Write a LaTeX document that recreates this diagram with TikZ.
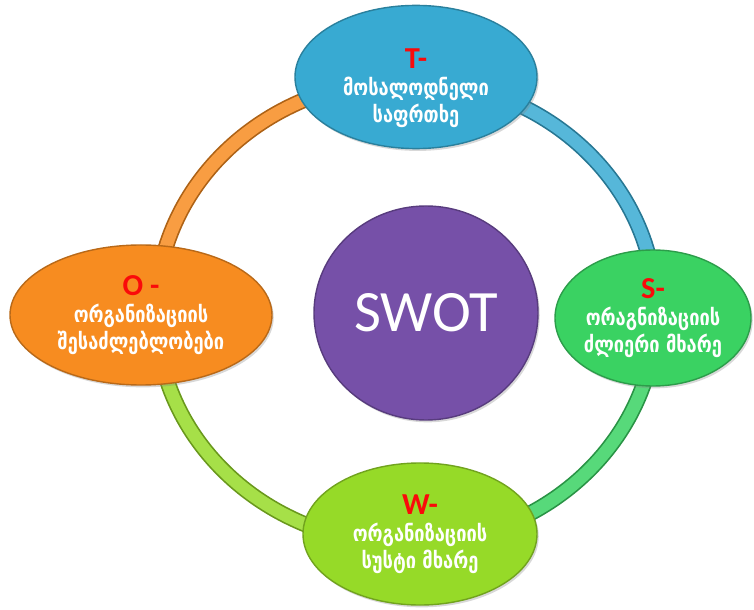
\documentclass[tikz,border=0pt]{standalone}
\usepackage{fontspec}
\setmainfont{Carlito}
\newfontfamily\geofont[FakeStretch=0.82]{DejaVu Sans}
\usepackage{tikz}
\usetikzlibrary{shapes.geometric,shadows}

\definecolor{tblue}{RGB}{56,170,210}
\definecolor{oorange}{RGB}{247,140,32}
\definecolor{sgreen}{RGB}{58,210,98}
\definecolor{wlime}{RGB}{150,218,40}
\definecolor{swotpurple}{RGB}{118,80,168}
\definecolor{letterred}{RGB}{250,10,10}

\newcommand{\letr}[1]{{\rmfamily\bfseries\fontsize{26}{28}\selectfont\color{letterred}#1}}

\tikzset{
  swotnode/.style={ellipse, inner sep=0pt, align=center, text=white,
    line width=1.2pt, font=\geofont\bfseries\fontsize{19}{23}\selectfont,
    drop shadow={opacity=0.3, shadow xshift=1.5pt, shadow yshift=-2pt}},
}

\begin{document}
\begin{tikzpicture}[x=0.03cm,y=0.03cm]
        \useasboundingbox (0,0) rectangle (754,609);
        \fill[white] (0,0) rectangle (754,609);
        % Centre of the ring
        \coordinate (ring) at (406,297);
        % Ring segments, each in the colour of the node it leaves
        \foreach \a/\col in {180/oorange, 90/tblue, 0/sgreen, -90/wlime} {
            \draw[\col!70!black, line width=0.48cm] (ring) ++(\a:250 and 232) arc[start angle=\a, end angle=\a-90, x radius=250, y radius=232];
            \draw[\col!85!white, line width=0.38cm] (ring) ++(\a:250 and 232) arc[start angle=\a, end angle=\a-90, x radius=250, y radius=232];
        }
        % Centre circle
        \node[swotnode, fill=swotpurple, draw=swotpurple!75!black, minimum width=6.72cm, minimum height=6.42cm,
              font=\fontsize{50}{60}\selectfont] (swot) at (426,296) {SWOT};
        % The four outer nodes
        \node[swotnode, fill=tblue, draw=tblue!75!black, minimum width=7.26cm, minimum height=4.2cm]
              (threat) at (416,532) {\rule{0pt}{36pt}\letr{T-}\\[0pt]მოსალოდნელი\\საფრთხე};
        \node[swotnode, fill=oorange, draw=oorange!75!black, minimum width=7.86cm, minimum height=4.2cm]
              (opport) at (141,294) {\letr{O -}\\[0pt]ორგანიზაციის\\შესაძლებლობები};
        \node[swotnode, fill=sgreen, draw=sgreen!75!black, minimum width=5.88cm, minimum height=4.08cm]
              (strength) at (653,291) {\letr{S-}\\[0pt]ორაგნიზაციის\\ძლიერი მხარე};
        \node[swotnode, fill=wlime, draw=wlime!75!black, minimum width=7.02cm, minimum height=4.26cm]
              (weak) at (420,75) {\letr{W-}\\[0pt]ორგანიზაციის\\სუსტი მხარე};
\end{tikzpicture}
\end{document}
